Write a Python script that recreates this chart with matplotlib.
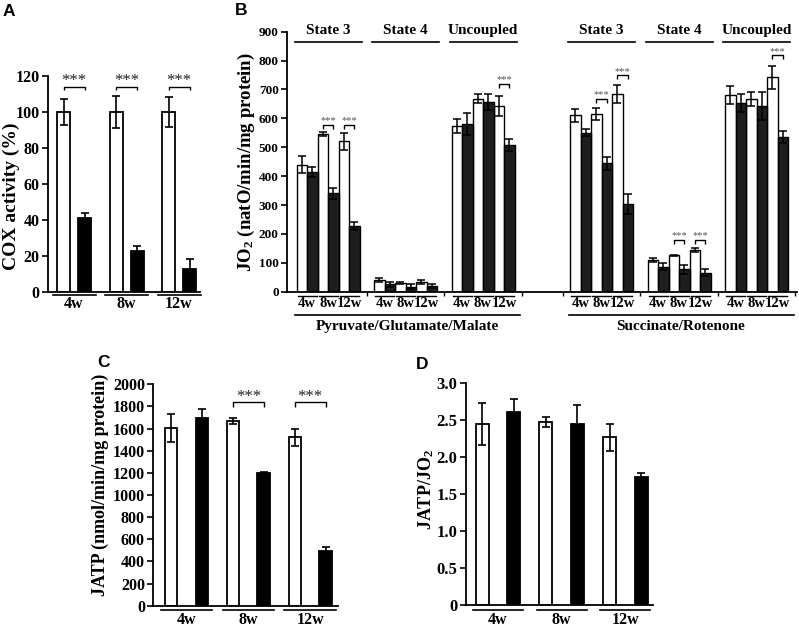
import matplotlib
matplotlib.use('Agg')
import matplotlib.pyplot as plt
import numpy as np
from matplotlib.transforms import blended_transform_factory

W, H, DPI = 799, 627, 100
SERIF = ['Liberation Serif', 'DejaVu Serif']
SANS = ['Liberation Sans', 'DejaVu Sans']
plt.rcParams['font.family'] = SERIF
plt.rcParams['font.weight'] = 'bold'
plt.rcParams['mathtext.fontset'] = 'custom'
plt.rcParams['mathtext.rm'] = 'Liberation Serif:bold'
plt.rcParams['mathtext.it'] = 'Liberation Serif:bold'
plt.rcParams['mathtext.bf'] = 'Liberation Serif:bold'

# ---------------- data ----------------
weeks = ['4w', '8w', '12w']

# A: COX activity (%)
cox_ctrl = [100, 100, 100]
cox_ctrl_err = [7.3, 9.0, 8.4]
cox_ko = [41.2, 22.8, 13.0]
cox_ko_err = [2.5, 2.8, 5.6]
cox_sig_y = [114, 114, 114]

# B: JO2, [state][week]
states = ['State 3', 'State 4', 'Uncoupled']
substrates = ['Pyruvate/Glutamate/Malate', 'Succinate/Rotenone']
pgm_ctrl = [[440, 545, 520], [40, 30, 33], [573, 668, 643]]
pgm_ctrl_err = [[30, 7, 30], [8, 4, 6], [24, 16, 35]]
pgm_ko = [[415, 340, 227], [26, 17, 20], [580, 657, 508]]
pgm_ko_err = [[17, 20, 13], [8, 8, 7], [37, 28, 20]]
sr_ctrl = [[610, 616, 685], [110, 126, 144], [681, 667, 742]]
sr_ctrl_err = [[23, 21, 31], [7, 2, 8], [31, 25, 40]]
sr_ko = [[550, 445, 303], [87, 77, 66], [652, 643, 536]]
sr_ko_err = [[12, 22, 34], [11, 15, 11], [31, 50, 21]]
# significance: (substrate, state, week, bracket height)
jo2_sig = [(0, 0, 1, 577), (0, 0, 2, 577), (0, 2, 2, 719),
           (1, 0, 1, 668), (1, 0, 2, 749), (1, 1, 1, 179),
           (1, 1, 2, 179), (1, 2, 2, 819)]

# C: JATP
jatp_ctrl = [1605, 1670, 1520]
jatp_ctrl_err = [130, 28, 78]
jatp_ko = [1700, 1200, 494]
jatp_ko_err = [78, 8, 35]
jatp_sig = [(1, 1838), (2, 1838)]

# D: JATP/JO2
ratio_ctrl = [2.45, 2.48, 2.27]
ratio_ctrl_err = [0.29, 0.07, 0.18]
ratio_ko = [2.61, 2.45, 1.73]
ratio_ko_err = [0.18, 0.25, 0.05]

# ---------------- helpers ----------------
fig = plt.figure(figsize=(W / DPI, H / DPI), dpi=DPI)


def add_axes_px(box):
    x0, x1, ytop, ybot = box
    ax = fig.add_axes([x0 / W, 1 - ybot / H, (x1 - x0) / W, (ybot - ytop) / H])
    ax.spines['top'].set_visible(False)
    ax.spines['right'].set_visible(False)
    for s in ('left', 'bottom'):
        ax.spines[s].set_linewidth(1.3)
    ax.patch.set_alpha(0)
    ax.tick_params(axis='y', direction='out', length=4, width=1.2, pad=2)
    return ax


def yf(box, ypx):
    return (box[3] - ypx) / (box[3] - box[2])


def ftext(xpx, ypx, s, **kw):
    fig.text(xpx / W, 1 - ypx / H, s, **kw)


def bracket(ax, x1, x2, y, tick, star_dy, size, color):
    ax.plot([x1, x1, x2, x2], [y - tick, y, y, y - tick], color='black',
            lw=1.0, clip_on=False, zorder=4, solid_capstyle='butt')
    ax.text((x1 + x2) / 2, y + star_dy, '***', ha='center', va='baseline',
            fontsize=size, color=color, fontweight='normal')


def simple_panel(box, xlim, ylim, yticks, yticklabels, ctrl, ctrl_err, ko, ko_err,
                 first, step, offset, width, tick_fs, line_half, line_y, lab_y,
                 ko_color='black', cap=3):
    ax = add_axes_px(box)
    ax.set_xlim(*xlim)
    ax.set_ylim(*ylim)
    xw = first + step * np.arange(len(weeks))
    xb = xw + offset
    ax.bar(xw, ctrl, width=width, color='white', edgecolor='black', linewidth=1.3, zorder=2)
    ax.bar(xb, ko, width=width, color=ko_color, edgecolor='black', linewidth=1.3, zorder=2)
    ax.errorbar(xw, ctrl, yerr=ctrl_err, fmt='none', ecolor='black', elinewidth=1.2,
                capsize=cap, capthick=1.2, zorder=3)
    ax.errorbar(xb, ko, yerr=ko_err, fmt='none', ecolor='black', elinewidth=1.2,
                capsize=cap, capthick=1.2, zorder=3)
    ax.set_xticks([])
    ax.set_yticks(yticks)
    ax.set_yticklabels(yticklabels, fontsize=tick_fs, fontweight='bold')
    tr = blended_transform_factory(ax.transData, ax.transAxes)
    for i, wk in enumerate(weeks):
        cx = (xw[i] + xb[i]) / 2
        ax.plot([cx - line_half, cx + line_half], [yf(box, line_y)] * 2, transform=tr,
                color='black', lw=1.2, clip_on=False)
        ax.text(cx, yf(box, lab_y), wk, transform=tr, ha='center', va='center',
                fontsize=11.5, fontweight='bold')
    return ax, xw, xb


# ---------------- Panel A ----------------
BOX_A = (48, 200, 76, 292)
axA, xwA, xbA = simple_panel(BOX_A, (0, 152), (0, 120), np.arange(0, 121, 20),
                             [str(v) for v in range(0, 121, 20)],
                             cox_ctrl, cox_ctrl_err, cox_ko, cox_ko_err,
                             15.5, 52.5, 21, 13, 11.5, 21.5, 294.5, 304.5)
for i, y in enumerate(cox_sig_y):
    bracket(axA, xwA[i], xbA[i], y, 1.8, 1.0, 12, '#222222')
ftext(11.5, 196, 'COX activity (%)', rotation=90, ha='center', va='center',
      fontsize=14, fontweight='bold')
ftext(3, 4, 'A', ha='left', va='top', fontsize=12.5, fontweight='bold', family=SANS)

# ---------------- Panel B ----------------
BOX_B = (287, 797, 31.7, 291.7)
axB = add_axes_px(BOX_B)
axB.set_xlim(0, 510)
axB.set_ylim(0, 900)
axB.set_yticks(np.arange(0, 901, 100))
axB.set_yticklabels([str(v) for v in range(0, 901, 100)], fontsize=9.5, fontweight='bold')
bw = 10.5
span = 38.75
centers = [41 + 77.5 * k + (41 if k >= 3 else 0) for k in range(6)]
trB = blended_transform_factory(axB.transData, axB.transAxes)
datasets = [(pgm_ctrl, pgm_ctrl_err, pgm_ko, pgm_ko_err),
            (sr_ctrl, sr_ctrl_err, sr_ko, sr_ko_err)]
bar_x = {}
for si, (cv, ce, kv, ke) in enumerate(datasets):
    for st in range(3):
        k = si * 3 + st
        c = centers[k]
        xw = np.array([c + (2 * w - 2.5) * bw for w in range(3)])
        xb = xw + bw
        bar_x[(si, st)] = (xw, xb)
        axB.bar(xw, cv[st], width=bw, color='white', edgecolor='black', linewidth=1.0, zorder=2)
        axB.bar(xb, kv[st], width=bw, color='#1e1e1e', edgecolor='black', linewidth=1.0, zorder=2)
        axB.errorbar(xw, cv[st], yerr=ce[st], fmt='none', ecolor='black', elinewidth=1.1,
                     capsize=2.6, capthick=1.1, zorder=3)
        axB.errorbar(xb, kv[st], yerr=ke[st], fmt='none', ecolor='black', elinewidth=1.1,
                     capsize=2.6, capthick=1.1, zorder=3)
        # header
        axB.text(c, yf(BOX_B, 30.5), states[st], transform=trB, ha='center', va='center',
                 fontsize=11, fontweight='bold')
        axB.plot([c - 33.5, c + 33.5], [yf(BOX_B, 41.7)] * 2, transform=trB,
                 color='black', lw=1.2, clip_on=False)
        # week labels
        for w in range(3):
            px = c + (2 * w - 2) * bw
            axB.plot([px - 9.5, px + 9.5], [yf(BOX_B, 296.3)] * 2, transform=trB,
                     color='black', lw=1.0, clip_on=False)
            axB.text(px, yf(BOX_B, 303.8), weeks[w], transform=trB, ha='center',
                     va='center', fontsize=10.5, fontweight='bold')
    cf, cl = centers[si * 3], centers[si * 3 + 2]
    axB.plot([cf - 33, cl + 37], [yf(BOX_B, 315)] * 2, transform=trB,
             color='black', lw=1.2, clip_on=False)
    axB.text((cf - 33 + cl + 37) / 2, yf(BOX_B, 326.5), substrates[si], transform=trB,
             ha='center', va='center', fontsize=11, fontweight='bold')
xt = [centers[k] + span for k in range(6)] + [centers[3] - span]
axB.set_xticks(sorted(xt))
axB.set_xticklabels([])
axB.tick_params(axis='x', direction='out', length=3, width=1.0)
for (si, st, w, yb) in jo2_sig:
    xw, xb = bar_x[(si, st)]
    bracket(axB, xw[w], xb[w], yb, 14, 5, 7.5, '#555555')
ftext(246.5, 162, 'JO$_2$ (natO/min/mg protein)', rotation=90, ha='center',
      va='center', fontsize=13.5, fontweight='bold')
ftext(235, 3, 'B', ha='left', va='top', fontsize=12.5, fontweight='bold', family=SANS)

# ---------------- Panel C ----------------
BOX_C = (153.3, 338.3, 384.3, 605.7)
axC, xwC, xbC = simple_panel(BOX_C, (0, 185), (0, 2000), np.arange(0, 2001, 200),
                             [str(v) for v in range(0, 2001, 200)],
                             jatp_ctrl, jatp_ctrl_err, jatp_ko, jatp_ko_err,
                             17.8, 61.85, 30.7, 12.5, 11.5, 25.7, 610, 619.5)
for (w, yb) in jatp_sig:
    bracket(axC, xwC[w], xbC[w], yb, 40, 10, 12, '#222222')
ftext(100.7, 485, 'JATP (nmol/min/mg protein)', rotation=90, ha='center',
      va='center', fontsize=13, fontweight='bold')
ftext(97, 355, 'C', ha='left', va='top', fontsize=12.5, fontweight='bold', family=SANS)

# ---------------- Panel D ----------------
BOX_D = (465.7, 653.3, 383.3, 605)
dticks = np.arange(0, 3.01, 0.5)
axD, xwD, xbD = simple_panel(BOX_D, (0, 187.6), (0, 3.0), dticks,
                             ['0'] + ['%.1f' % v for v in dticks[1:]],
                             ratio_ctrl, ratio_ctrl_err, ratio_ko, ratio_ko_err,
                             16.5, 63.75, 31.5, 13, 12, 25, 610, 619.5)
ftext(425.8, 490, 'JATP/JO$_2$', rotation=90, ha='center', va='center',
      fontsize=13, fontweight='bold')
ftext(416, 357, 'D', ha='left', va='top', fontsize=12.5, fontweight='bold', family=SANS)

fig.savefig('out.png', dpi=DPI)
